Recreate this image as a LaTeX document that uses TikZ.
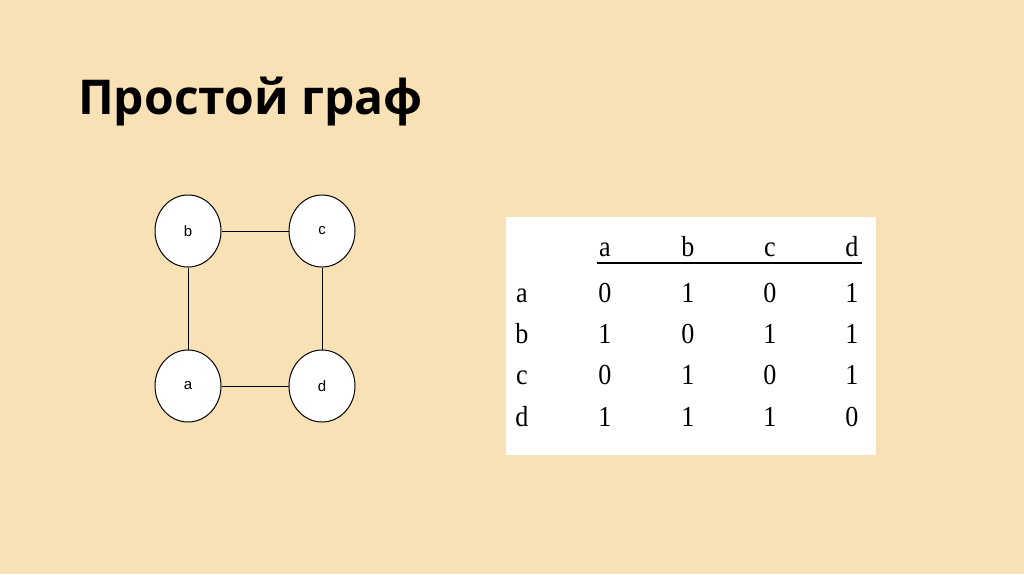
\documentclass[tikz,border=0pt]{standalone}
\usepackage{fontspec}
\setmainfont{Liberation Serif}
\newfontfamily\titlefont{Open Sans}
\newfontfamily\nodefont{Liberation Sans}
\usetikzlibrary{shapes.geometric}
\definecolor{bg}{HTML}{F7E1B5}
\begin{document}
\begin{tikzpicture}[x=1pt,y=-1pt,
  vert/.style={draw,line width=1pt,ellipse,fill=white,minimum width=66pt,minimum height=72pt,inner sep=0pt,font=\nodefont\fontsize{15}{15}\selectfont},
  cell/.style={font=\fontsize{29}{29}\selectfont,anchor=base,xscale=0.9}]
\fill[bg] (0,0) rectangle (1024,574);
\useasboundingbox (0,0) rectangle (1024,574);
\node[anchor=base west,font=\titlefont\bfseries\fontsize{48}{48}\selectfont,inner sep=0pt] (title) at (78,114) {Простой граф};
\node[vert] (b) at (188,231) {b};
\node[vert] (c) at (322,231) {c};
\node[vert] (a) at (188,386) {a};
\node[vert] (d) at (322,386) {d};
\draw[line width=1pt] (b) -- (c) (b) -- (a) (c) -- (d) (a) -- (d);
\fill[white] (506,217) rectangle (876,455);
\foreach \n/\x in {a/605,b/688,c/770,d/852} \node[cell] (h\n) at (\x,256) {\n};
\coordinate (l1) at (597,263); \coordinate (l2) at (862,263);
\draw[line width=1.6pt] (l1) -- (l2);
\foreach \r/\y/\p/\q/\s/\t in {a/302/0/1/0/1,b/343/1/0/1/1,c/384/0/1/0/1,d/426/1/1/1/0}{
  \node[cell] (r\r) at (522,\y) {\r};
  \node[cell] (m\r1) at (605,\y) {\p};
  \node[cell] (m\r2) at (688,\y) {\q};
  \node[cell] (m\r3) at (770,\y) {\s};
  \node[cell] (m\r4) at (852,\y) {\t};
}
\end{tikzpicture}
\end{document}
